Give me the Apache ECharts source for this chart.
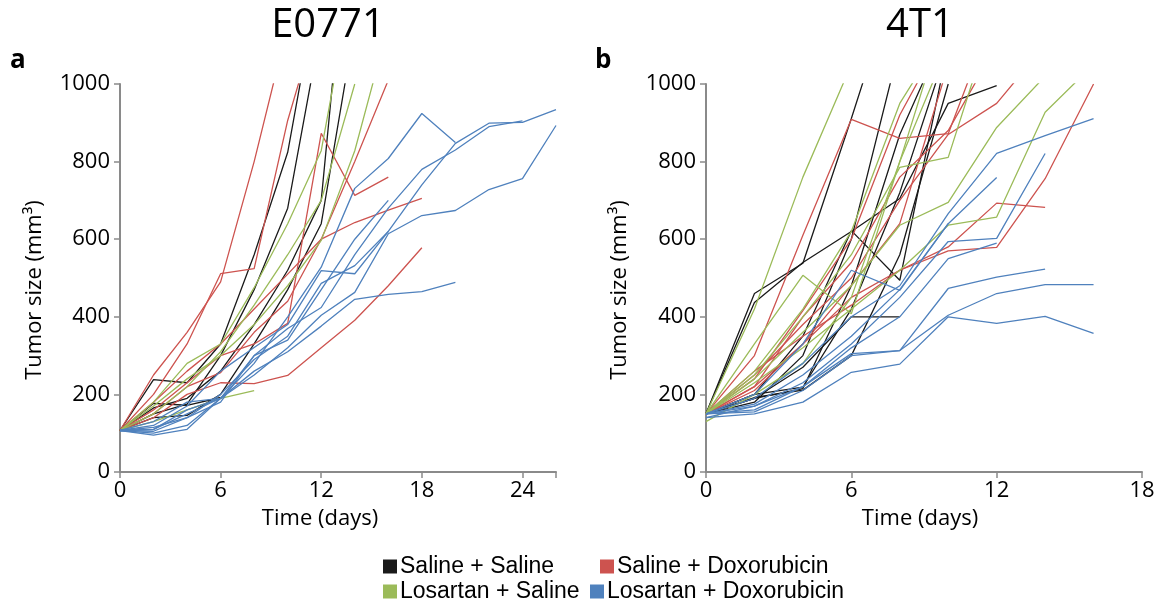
<!DOCTYPE html>
<html>
<head>
<meta charset="utf-8">
<script src="https://cdn.jsdelivr.net/npm/echarts@6/dist/echarts.min.js"></script>
<style>
  html, body { margin: 0; padding: 0; background: #fff; }
  #chart { width: 1164px; height: 602px; }
</style>
</head>
<body>
<div id="chart"></div>
<script>
// measurement days
var e0771Days = [0, 2, 4, 6, 8, 10, 12, 14, 16, 18, 20, 22, 24, 26];
var t41Days = [0, 2, 4, 6, 8, 10, 12, 14, 16];

// E0771 tumour volumes (mm3), one row per mouse
var e0771SalSal = [
  [107, 238, 230, 330, 560, 824, 1300],
  [107, 150, 175, 300, 470, 680, 1150],
  [107, 165, 190, 260, 380, 520, 700, 1600],
  [107, 140, 146, 200, 330, 470, 640, 1150],
  [107, 177, 172, 192]
];
var e0771SalDox = [
  [107, 250, 360, 490, 800, 1150],
  [107, 200, 330, 511, 524, 906, 1200],
  [107, 160, 230, 300, 330, 383, 873, 713, 760],
  [107, 180, 260, 330, 420, 510, 600, 643, 675, 705],
  [107, 140, 200, 230, 228, 249, 320, 391, 480, 578],
  [107, 150, 220, 256, 360, 440, 600, 800, 1010]
];
var e0771LosSal = [
  [107, 130, 160, 190, 210],
  [107, 180, 280, 330, 475, 640, 828, 1300],
  [107, 170, 240, 300, 380, 480, 597, 828, 1150],
  [107, 150, 220, 310, 430, 560, 700, 1000]
];
var e0771LosDox = [
  [107, 100, 120, 190, 280, 400, 528, 731, 808, 924, 849],
  [107, 115, 140, 200, 290, 350, 486, 532, 620, 740, 847, 899, 901, 934],
  [107, 110, 160, 190, 300, 370, 424, 560, 680, 780, 830, 890, 905],
  [107, 110, 150, 190, 250, 320, 404, 463, 614, 661, 674, 728, 756, 893],
  [107, 95, 110, 190, 260, 310, 376, 445, 458, 465, 489],
  [107, 120, 170, 260, 321, 380, 519, 511, 620],
  [107, 130, 180, 190],
  [107, 105, 140, 180, 300, 340, 470, 600, 700]
];

// 4T1 tumour volumes (mm3)
var t41SalSal = [
  [150, 460, 538, 911, 1300],
  [150, 200, 350, 622, 494, 1100],
  [150, 190, 270, 400, 400],
  [150, 437, 540, 620, 705, 950, 996],
  [150, 180, 300, 600, 1100],
  [150, 190, 215, 480, 870, 1150],
  [150, 200, 219, 420, 720, 1100],
  [150, 192, 211, 300, 560, 1000]
];
var t41SalDox = [
  [150, 300, 610, 909, 860, 872, 1200],
  [150, 260, 350, 430, 520, 580, 693, 682],
  [150, 220, 330, 450, 520, 570, 579, 756, 1000],
  [150, 250, 380, 500, 700, 870, 950, 1100],
  [150, 220, 400, 540, 760, 880, 1100],
  [150, 240, 416, 600, 920, 1150],
  [150, 210, 330, 481, 640, 1050]
];
var t41LosSal = [
  [150, 420, 760, 1050],
  [150, 330, 507, 408, 800, 1100],
  [150, 230, 320, 420, 520, 636, 657, 927, 1050],
  [150, 240, 360, 480, 636, 695, 888, 1020],
  [150, 250, 400, 560, 785, 811, 1200],
  [150, 260, 420, 620, 950, 1150],
  [130, 200, 280, 450, 800, 1200]
];
var t41LosDox = [
  [150, 160, 220, 305, 313, 473, 502, 523],
  [150, 155, 210, 300, 313, 404, 460, 483, 483],
  [140, 150, 180, 257, 278, 400, 383, 401, 357],
  [150, 190, 280, 400, 480, 666, 821, 867, 911],
  [150, 170, 230, 330, 450, 594, 602, 821],
  [150, 175, 250, 350, 470, 640, 759],
  [150, 200, 330, 520, 468, 640],
  [140, 170, 220, 320, 400, 550, 590]
];

var xTicks = [0, 6, 12, 18, 24];
var yTicks = [0, 200, 400, 600, 800, 1000];
var groupNames = ['Saline + Saline', 'Saline + Doxorubicin', 'Losartan + Saline', 'Losartan + Doxorubicin'];
var groupColors = ['#1a1a1a', '#cd534f', '#9bbb59', '#4f81bd'];

var font = 'Open Sans';

function addSeries(list, rows, days, gi, k) {
  rows.forEach(function (vals) {
    list.push({
      name: groupNames[k],
      type: 'line',
      xAxisIndex: gi,
      yAxisIndex: gi,
      data: vals.map(function (v, i) { return [days[i], v]; }),
      symbol: 'none',
      clip: true,
      silent: true,
      color: groupColors[k],
      lineStyle: { width: 1.3, color: groupColors[k] }
    });
  });
}

var series = [];
addSeries(series, e0771SalSal, e0771Days, 0, 0);
addSeries(series, e0771SalDox, e0771Days, 0, 1);
addSeries(series, e0771LosSal, e0771Days, 0, 2);
addSeries(series, e0771LosDox, e0771Days, 0, 3);
addSeries(series, t41SalSal, t41Days, 1, 0);
addSeries(series, t41SalDox, t41Days, 1, 1);
addSeries(series, t41LosSal, t41Days, 1, 2);
addSeries(series, t41LosDox, t41Days, 1, 3);

function xAxis(gi, max) {
  return {
    gridIndex: gi, type: 'value', min: 0, max: max, interval: 6,
    axisLine: { show: true, lineStyle: { color: '#8a8a8a', width: 2 } },
    axisTick: { show: true, length: 6, lineStyle: { color: '#8a8a8a', width: 1.5 } },
    axisLabel: { color: '#000', fontSize: 22, fontFamily: font, margin: 8,
      formatter: function (v) { return xTicks.indexOf(v) >= 0 ? String(v) : ''; } },
    splitLine: { show: false }
  };
}
function yAxis(gi) {
  return {
    gridIndex: gi, type: 'value', min: 0, max: 1000, interval: 200,
    axisLine: { show: true, lineStyle: { color: '#8a8a8a', width: 2 } },
    axisTick: { show: true, length: 6, lineStyle: { color: '#8a8a8a', width: 1.5 } },
    axisLabel: { color: '#000', fontSize: 22, fontFamily: font, margin: 10,
      formatter: function (v) { return yTicks.indexOf(v) >= 0 ? String(v) : ''; } },
    splitLine: { show: false }
  };
}

function legendItem(k, left, top) {
  return {
    data: [groupNames[k]], left: left, top: top, padding: 0,
    icon: 'rect', itemWidth: 14, itemHeight: 14, itemGap: 0,
    selectedMode: false,
    textStyle: { color: '#000', fontSize: 23, fontFamily: 'Liberation Sans', padding: [0, 0, 0, -2] }
  };
}

function txt(s, x, y, size, extra) {
  var el = { type: 'text', x: x, y: y, silent: true,
    style: { text: s, fill: '#000', font: size + 'px "' + font + '"', textAlign: 'center', textVerticalAlign: 'middle' } };
  if (extra) { for (var key in extra) el[key] = extra[key]; }
  return el;
}

var chart = echarts.init(document.getElementById('chart'));
chart.setOption({
  animation: false,
  backgroundColor: '#fff',
  grid: [
    { left: 120, top: 84, width: 436, height: 388 },
    { left: 706, top: 84, width: 436, height: 388 }
  ],
  xAxis: [xAxis(0, 26), xAxis(1, 18)],
  yAxis: [yAxis(0), yAxis(1)],
  legend: [
    legendItem(0, 383, 555),
    legendItem(1, 600, 555),
    legendItem(2, 383, 580),
    legendItem(3, 590, 580)
  ],
  graphic: [
    txt('E0771', 328, 26, 40),
    txt('4T1', 920, 26, 40),
    { type: 'text', x: 10, y: 48, style: { text: 'a', fill: '#000', font: 'bold 26px "' + font + '"' } },
    { type: 'text', x: 595, y: 48, style: { text: 'b', fill: '#000', font: 'bold 26px "' + font + '"' } },
    txt('Time (days)', 320, 519, 22),
    txt('Time (days)', 920, 519, 22),
    txt('Tumor size (mm³)', 35, 290, 22, { rotation: Math.PI / 2 }),
    txt('Tumor size (mm³)', 620, 290, 22, { rotation: Math.PI / 2 })
  ],
  series: series
});
</script>
</body>
</html>
